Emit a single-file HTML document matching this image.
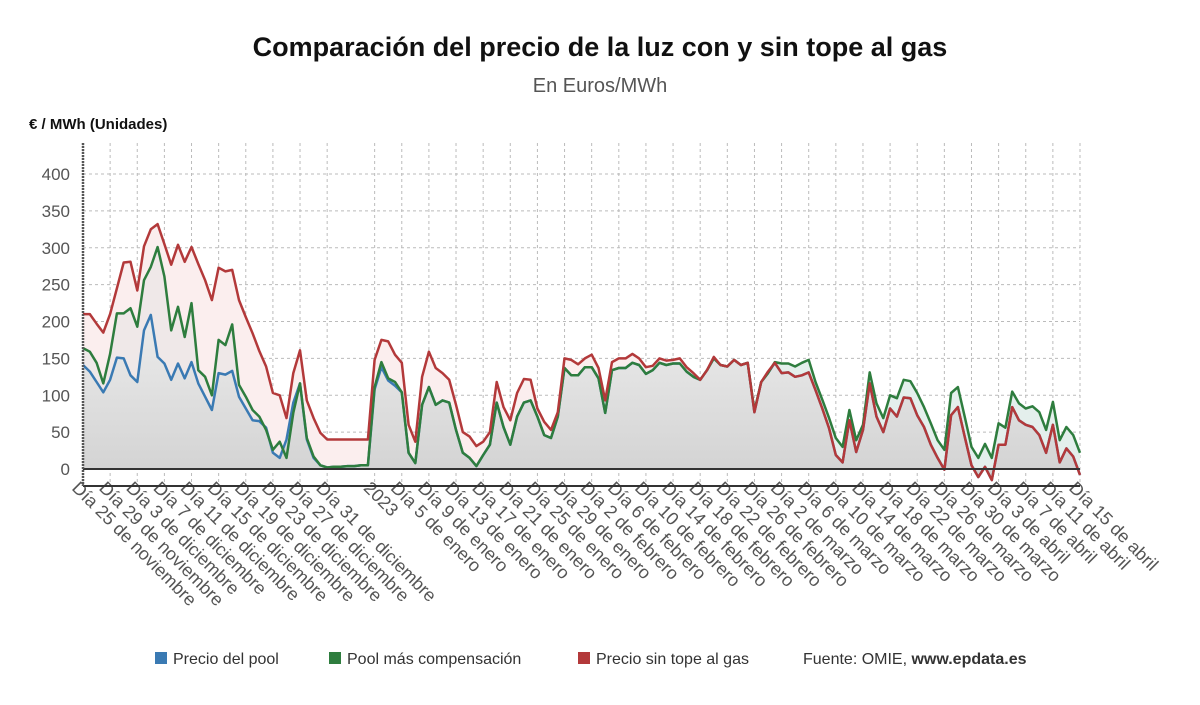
<!DOCTYPE html>
<html><head><meta charset="utf-8">
<style>
body{margin:0;background:#fff;}
svg{display:block;font-family:"Liberation Sans","DejaVu Sans",sans-serif;}
</style></head>
<body>
<svg id="chart" width="1200" height="705" viewBox="0 0 1200 705">
<defs>
<linearGradient id="gray" x1="0" y1="0" x2="0" y2="1"><stop offset="0" stop-color="#ececec"/><stop offset="1" stop-color="#d2d2d2"/></linearGradient>
<clipPath id="rightClip"><rect x="560" y="100" width="600" height="400"/></clipPath>
</defs>
<text x="600" y="56" text-anchor="middle" font-size="27" font-weight="bold" fill="#111">Comparación del precio de la luz con y sin tope al gas</text>
<text x="600" y="92" text-anchor="middle" font-size="20" fill="#555">En Euros/MWh</text>
<text x="29" y="129" font-size="15" font-weight="bold" fill="#111">€ / MWh (Unidades)</text>
<g id="grid"></g>
<g id="areas"></g>
<g id="lines"></g>
<g id="axes"></g>
<g id="legend" font-size="16" fill="#333">
<rect x="155" y="652" width="12" height="12" fill="#3a7ab3"/>
<text x="173" y="664">Precio del pool</text>
<rect x="329" y="652" width="12" height="12" fill="#2e7d3e"/>
<text x="347" y="664">Pool más compensación</text>
<rect x="578" y="652" width="12" height="12" fill="#b3393a"/>
<text x="596" y="664">Precio sin tope al gas</text>
<text x="803" y="664">Fuente: OMIE, <tspan font-weight="bold">www.epdata.es</tspan></text>
</g>
</svg>
<script>
const yTicks=[0,50,100,150,200,250,300,350,400];
const xTickIdx=[0,4,8,12,16,20,24,28,32,36,43,47,51,55,59,63,67,71,75,79,83,87,91,95,99,103,107,111,115,119,123,127,131,135,139,143,147];
const xTickLabels=["Día 25 de noviembre","Día 29 de noviembre","Día 3 de diciembre","Día 7 de diciembre","Día 11 de diciembre","Día 15 de diciembre","Día 19 de diciembre","Día 23 de diciembre","Día 27 de diciembre","Día 31 de diciembre","2023","Día 5 de enero","Día 9 de enero","Día 13 de enero","Día 17 de enero","Día 21 de enero","Día 25 de enero","Día 29 de enero","Día 2 de febrero","Día 6 de febrero","Día 10 de febrero","Día 14 de febrero","Día 18 de febrero","Día 22 de febrero","Día 26 de febrero","Día 2 de marzo","Día 6 de marzo","Día 10 de marzo","Día 14 de marzo","Día 18 de marzo","Día 22 de marzo","Día 26 de marzo","Día 30 de marzo","Día 3 de abril","Día 7 de abril","Día 11 de abril","Día 15 de abril"];
const noCap=[210,210,197,185,210,245,280,281,242,302,325,332,305,277,304,281,301,278,256,229,273,268,270,229,206,184,160,139,103,100,69,130,161,93,69,49,40,40,40,40,40,40,40,148,175,173,155,144,60,37,125,159,137,130,121,87,50,44,31,37,50,118,84,66,103,122,121,82,64,53,77,150,148,142,150,155,137,93,145,150,150,156,150,138,140,150,147,148,150,138,130,121,134,152,141,139,148,141,144,77,118,132,144,130,131,125,127,131,107,82,55,19,9,66,23,53,116,71,50,82,71,97,96,73,57,33,15,-1,73,84,44,5,-11,3,-15,33,33,84,66,60,57,46,22,60,9,28,17,-8];
const compensation=[164,159,144,116,156,211,211,218,193,256,274,301,261,188,220,179,225,134,125,100,175,168,196,114,98,80,71,53,26,37,15,76,116,42,17,5,2,3,3,4,4,5,5,111,145,123,118,104,22,8,87,111,87,93,90,53,22,15,4,19,33,90,57,33,71,90,93,71,46,42,71,137,127,127,138,138,123,76,134,137,137,144,141,129,134,144,141,143,143,132,125,121,134,150,141,139,148,141,144,79,118,130,145,143,143,139,144,148,118,94,69,42,30,80,39,60,131,89,69,100,96,121,119,103,84,62,39,26,103,111,71,30,15,34,15,62,56,105,89,82,85,77,53,91,39,57,46,22];
const pool=[141,132,118,104,121,151,150,127,118,188,209,152,143,121,143,123,145,116,98,80,130,128,133,98,82,66,65,56,22,15,40,90,116,40,15,5,2,3,3,4,4,5,5,108,138,120,113,104,22,8,87,111,87,93,90,53,22,15,4,19,33,90,57,33,71,90,93,71,46,42,71,137,127,127,138,138,123,76,134,137,137,144,141,129,134,144,141,143,143,132,125,121,134,150,141,139,148,141,144,77,118,130,144,130,131,125,127,131,107,82,55,19,9,66,23,53,116,71,50,82,71,97,96,73,57,33,15,-1,73,84,44,5,-11,3,-15,33,33,84,66,60,57,46,22,60,9,28,17,-8];

const X0=83,X1=1080,NPTS=148,Y0=469,PXU=295/400;
const xs=i=>X0+i*(X1-X0)/(NPTS-1);
const ys=v=>Y0-v*PXU;
const NS="http://www.w3.org/2000/svg";
function mk(tag,attrs,parent){const e=document.createElementNS(NS,tag);for(const k in attrs)e.setAttribute(k,attrs[k]);parent.appendChild(e);return e;}
const grid=document.getElementById('grid'),areas=document.getElementById('areas'),lines=document.getElementById('lines'),axes=document.getElementById('axes');

yTicks.forEach(t=>{
  if(t!==0){const g=mk('line',{x1:X0,x2:X1,y1:ys(t),y2:ys(t),stroke:'#bbb','stroke-dasharray':'3,3','stroke-width':1},grid);
  
  }
  const l=mk('text',{x:70,y:ys(t)+6,'text-anchor':'end','font-size':17,fill:'#555'},axes);
  l.textContent=t;
  
  
});
xTickIdx.forEach((ix,k)=>{
  const x=xs(ix);
  const g=mk('line',{x1:x,x2:x,y1:143,y2:486,stroke:'#bbb','stroke-dasharray':'3,3','stroke-width':1},grid);
  
  
  const t=mk('text',{x:x-12,y:489,'font-size':18,fill:'#555',transform:`rotate(45 ${x-12} 489)`},axes);
  t.textContent=xTickLabels[k];
  
  
});
function areaPath(arr){let d=`M${xs(0)},${Y0}`;arr.forEach((v,i)=>{d+=`L${xs(i).toFixed(1)},${ys(v).toFixed(1)}`;});return d+`L${xs(arr.length-1)},${Y0}Z`;}
function linePath(arr){return arr.map((v,i)=>(i?'L':'M')+xs(i).toFixed(1)+','+ys(v).toFixed(1)).join('');}
const aR=mk('path',{d:areaPath(noCap),fill:'#fbeeee'},areas);


const aG0=mk('path',{d:areaPath(compensation),fill:'#efe8e8'},areas);


const aG=mk('path',{d:areaPath(compensation),fill:'#e4efec','clip-path':'url(#rightClip)'},areas);


const aB=mk('path',{d:areaPath(pool),fill:'url(#gray)'},areas);


const lB=mk('path',{d:linePath(pool),fill:'none',stroke:'#3a7ab3','stroke-width':2.5,'stroke-linejoin':'round'},lines);


const lG=mk('path',{d:linePath(compensation),fill:'none',stroke:'#2e7d3e','stroke-width':2.5,'stroke-linejoin':'round'},lines);


const lR=mk('path',{d:linePath(noCap),fill:'none',stroke:'#b3393a','stroke-width':2.5,'stroke-linejoin':'round'},lines);


const z=mk('line',{x1:X0,x2:X1,y1:Y0,y2:Y0,stroke:'#333','stroke-width':2},axes);


const xa=mk('line',{x1:X0,x2:X1,y1:486,y2:486,stroke:'#333','stroke-width':2},axes);


const ya=mk('line',{x1:X0,x2:X0,y1:143,y2:486,stroke:'#555','stroke-width':2.5,'stroke-dasharray':'2,1'},axes);


</script>
</body></html>
